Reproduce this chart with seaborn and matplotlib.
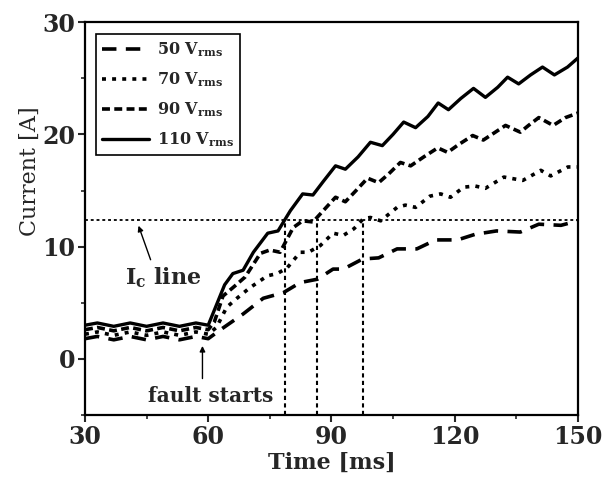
# Fault current vs time for several supply voltages
import numpy as np
import pandas as pd
import matplotlib
matplotlib.use("Agg")
import matplotlib.pyplot as plt
import seaborn as sns

# ----------------------------------------------------------
# Data
# ----------------------------------------------------------
t_110 = [30, 33, 37, 41, 45, 49, 53, 57, 60, 62, 64, 66, 68.5, 71, 74.5, 77, 80, 83, 85.5,
         88, 91, 93.4, 96.5, 99.5, 102.4, 105, 107.6, 110.5, 113.5, 116, 118.5, 121.5,
         124.6, 127.5, 130.5, 132.9, 135.6, 138.5, 141.4, 144.3, 147.5, 150]
i_110 = [3.0, 3.2, 2.9, 3.2, 2.9, 3.2, 2.9, 3.2, 3.0, 4.8, 6.6, 7.6, 7.9, 9.5, 11.2, 11.4,
         13.2, 14.7, 14.6, 15.8, 17.2, 16.9, 18.0, 19.3, 19.0, 20.0, 21.1, 20.6, 21.6, 22.8,
         22.2, 23.2, 24.1, 23.3, 24.2, 25.1, 24.5, 25.3, 26.0, 25.3, 26.0, 26.8]

t_90 = [30, 33, 37, 41, 45, 49, 53, 57, 60, 61.5, 63.6, 66.5, 69, 72.7, 75, 77.5, 80.7, 83,
        85.5, 88, 91, 93.4, 96, 98.8, 101.5, 104, 106.8, 109.3, 112.5, 115.9, 118.3, 121,
        124.4, 127, 129.5, 132.4, 136, 138, 140.5, 144, 147, 150]
i_90 = [2.6, 2.8, 2.5, 2.8, 2.5, 2.8, 2.5, 2.8, 2.6, 3.3, 5.6, 6.5, 7.3, 9.4, 9.7, 9.5, 11.7,
        12.3, 12.2, 13.2, 14.4, 14.0, 15.0, 16.1, 15.7, 16.5, 17.5, 17.2, 18.0, 18.8, 18.4,
        19.1, 19.9, 19.5, 20.1, 20.8, 20.2, 20.8, 21.5, 20.8, 21.5, 21.9]

t_70 = [30, 33, 37, 41, 45, 49, 53, 57, 60, 62, 64.5, 67, 70, 74.4, 76.8, 79.2, 82.4, 84.4,
        87.3, 90.4, 92.9, 95.5, 97.8, 99.5, 102, 106, 108, 110.5, 114, 116.6, 119, 122.2,
        125, 127.5, 132, 136.6, 141, 143.4, 147.6, 150]
i_70 = [2.2, 2.4, 2.1, 2.4, 2.1, 2.4, 2.1, 2.4, 2.2, 2.8, 4.6, 5.4, 6.3, 7.4, 7.6, 8.1, 9.5,
        9.5, 10.1, 11.2, 11.0, 11.6, 12.5, 12.6, 12.3, 13.5, 13.7, 13.5, 14.5, 14.7, 14.4,
        15.3, 15.4, 15.2, 16.2, 15.9, 16.8, 16.3, 17.1, 17.1]

t_50 = [30, 33, 37, 41, 45, 49, 53, 57, 60, 63, 68.5, 73.4, 78.3, 82.4, 86.6, 90.4, 92.9,
        97.6, 101.5, 106, 110.8, 115.4, 120.7, 125, 130.2, 136, 140.5, 145.9, 150]
i_50 = [1.8, 2.0, 1.7, 2.0, 1.7, 2.0, 1.7, 2.0, 1.8, 2.6, 4.0, 5.4, 5.9, 6.8, 7.1, 8.0, 8.0,
        8.9, 9.0, 9.8, 9.8, 10.6, 10.6, 11.1, 11.4, 11.3, 12.0, 11.9, 12.3]

labels = ["50 V$_{\\mathbf{rms}}$", "70 V$_{\\mathbf{rms}}$",
          "90 V$_{\\mathbf{rms}}$", "110 V$_{\\mathbf{rms}}$"]

ic_level = 12.4
cross_times = [78.8, 86.6, 97.8]

# ----------------------------------------------------------
# Plot
# ----------------------------------------------------------
sns.set_style("ticks")
plt.rcParams["font.family"] = ["DejaVu Serif"]
plt.rcParams["mathtext.fontset"] = "dejavuserif"

fig = plt.figure(figsize=(6.16, 4.82), dpi=100)
ax = fig.add_axes([0.138, 0.139, 0.800, 0.815])

series = [
    (t_50, i_50, labels[0], (0, (4, 2.6)), 2.6),
    (t_70, i_70, labels[1], (0, (1.1, 1.7)), 2.6),
    (t_90, i_90, labels[2], (0, (2.2, 1.2)), 2.6),
    (t_110, i_110, labels[3], "-", 2.4),
]

for t, cur, lab, ls, lw in series:
    df = pd.DataFrame({"Time": t, "Current": cur})
    sns.lineplot(data=df, x="Time", y="Current", ax=ax, color="black",
                 linestyle=ls, linewidth=lw, label=lab, estimator=None, sort=False)

# I_c line and crossing markers
ax.axhline(ic_level, color="black", linestyle=(0, (1.6, 1.6)), linewidth=1.3)
for tc in cross_times:
    ax.plot([tc, tc], [-5, ic_level], color="black", linestyle=(0, (2, 1.6)), linewidth=1.5)

ax.annotate("", xy=(42.8, 12.1), xytext=(46.2, 8.6),
            arrowprops=dict(arrowstyle="-|>", color="black", lw=1.0, mutation_scale=8))
ax.text(39.8, 7.2, "I$_{\\mathbf{c}}$ line", fontsize=16, fontweight="bold",
        ha="left", va="center")

ax.annotate("", xy=(58.6, 1.4), xytext=(58.6, -2.0),
            arrowprops=dict(arrowstyle="-|>", color="black", lw=1.0, mutation_scale=8))
ax.text(60.5, -3.3, "fault starts", fontsize=14.5, fontweight="bold",
        ha="center", va="center")

ax.set_xlim(30, 150)
ax.set_ylim(-5, 30)
ax.set_xticks([30, 60, 90, 120, 150])
ax.set_xticks([45, 75, 105, 135], minor=True)
ax.set_yticks([0, 10, 20, 30])
ax.set_yticks([-5, 5, 15, 25], minor=True)
ax.tick_params(axis="both", which="major", direction="out", length=5, width=1.5,
               labelsize=17, pad=2)
ax.tick_params(axis="both", which="minor", direction="out", length=3, width=1.2)
for lab in ax.get_xticklabels() + ax.get_yticklabels():
    lab.set_fontweight("bold")

for sp in ax.spines.values():
    sp.set_visible(True)
    sp.set_linewidth(1.6)
    sp.set_color("black")

ax.set_xlabel("Time [ms]", fontsize=16, fontweight="bold", labelpad=2)
ax.set_ylabel("Current [A]", fontsize=16)
ax.yaxis.set_label_coords(-0.09, 0.62)

leg = ax.legend(loc="upper left", bbox_to_anchor=(0.006, 0.99),
                handlelength=2.9, frameon=True, fancybox=False, edgecolor="black",
                framealpha=1, borderpad=0.4, labelspacing=0.7, handletextpad=0.5,
                prop={"weight": "bold", "size": 11.5})
leg.get_frame().set_linewidth(1.2)

fig.savefig("out.png", dpi=100)
